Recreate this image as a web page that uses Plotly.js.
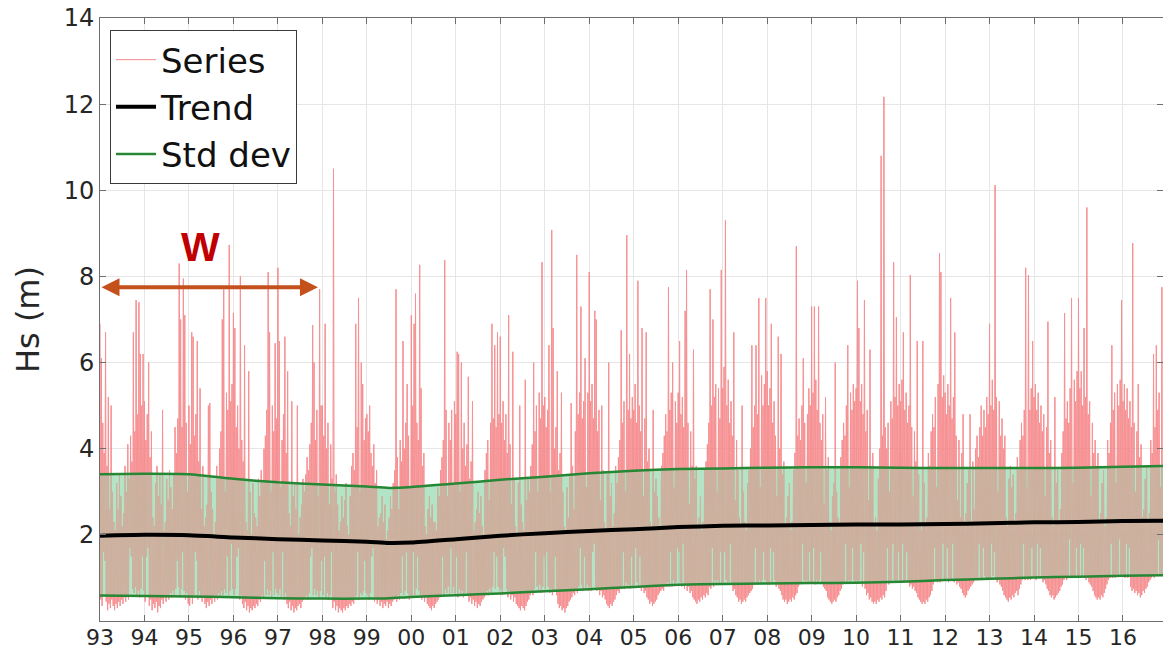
<!DOCTYPE html>
<html>
<head>
<meta charset="utf-8">
<script src="https://cdn.plot.ly/plotly-3.0.1.min.js"></script>
<style>
  html, body { margin: 0; padding: 0; background: #ffffff; }
  #chart { width: 1163px; height: 653px; }
</style>
</head>
<body>
<div id="chart"></div>
<script>
// Significant wave height, 1993-2016: each yearly block holds 32 (peak, trough) pairs,
// i.e. 64 samples spread evenly across the year.
const hs1993 = [6.9,0.5, 6.1,0.35, 4.6,1.6, 3.9,1.4, 6.7,0.45, 3.6,0.25, 5.2,0.4, 2.6,0.3, 5.0,0.5, 3.0,0.35, 2.3,0.25, 2.1,0.4, 3.2,0.3, 2.6,0.45, 3.4,0.35, 2.9,0.5, 2.2,0.4, 2.5,0.55, 3.6,0.45, 3.0,0.6, 4.1,0.5, 3.3,1.7, 4.3,1.5, 3.7,0.75, 6.7,0.65, 4.4,0.8, 7.45,0.6, 4.8,0.7, 7.4,0.55, 6.2,0.75, 5.0,1.5, 6.2,0.7];
const hs1994 = [5.1,0.45, 4.2,1.5, 4.8,1.7, 6.0,0.35, 3.8,0.5, 4.4,0.25, 2.4,0.4, 2.2,0.3, 3.2,0.45, 3.6,0.2, 2.9,0.35, 3.4,0.3, 2.7,0.5, 4.9,0.4, 2.1,0.55, 2.3,0.45, 3.3,0.6, 2.8,0.5, 3.5,0.65, 3.1,0.55, 2.6,0.7, 3.4,0.6, 4.5,0.75, 3.9,1.4, 4.7,0.8, 8.3,0.6, 7.0,0.75, 4.5,1.6, 7.95,0.7, 7.1,0.5, 4.6,0.65, 3.0,0.4];
const hs1995 = [5.0,0.35, 4.1,0.55, 6.7,0.4, 6.6,0.6, 4.3,1.6, 4.8,1.4, 6.5,0.5, 3.7,0.7, 5.4,0.55, 2.6,0.45, 3.6,0.6, 2.2,0.4, 2.4,0.3, 2.7,0.45, 5.0,0.35, 5.06,0.5, 3.0,0.4, 2.6,0.55, 2.0,0.45, 2.3,0.6, 3.6,0.5, 3.3,0.65, 4.0,0.55, 4.4,0.7, 7.0,0.6, 7.7,0.75, 3.0,0.65, 5.3,1.5, 4.9,0.6, 8.73,0.7, 5.1,1.8, 5.5,0.75];
const hs1996 = [7.15,0.6, 6.8,0.75, 4.5,1.5, 5.0,1.7, 4.0,0.5, 8.0,0.6, 4.2,0.4, 3.7,0.3, 6.4,0.45, 2.3,0.25, 2.1,0.35, 5.8,0.2, 3.0,0.3, 2.0,0.25, 3.2,0.35, 2.5,0.3, 2.4,0.4, 2.2,0.35, 3.3,0.5, 2.9,0.45, 3.5,0.6, 3.2,0.55, 4.0,1.4, 4.3,0.6, 4.9,0.75, 8.1,0.6, 6.7,0.7, 3.0,0.55, 5.0,1.6, 4.4,0.6, 6.45,0.75, 4.7,0.65];
const hs1997 = [8.2,0.6, 6.5,0.75, 3.1,0.55, 4.2,1.6, 4.8,0.5, 6.6,0.65, 3.9,0.4, 5.8,0.3, 2.5,0.45, 2.2,0.25, 5.1,0.35, 2.9,0.2, 3.2,0.3, 2.6,0.25, 5.0,0.35, 2.0,0.4, 2.4,0.3, 2.7,0.45, 3.3,0.5, 3.0,0.55, 3.4,0.6, 3.8,0.5, 3.5,0.65, 4.1,1.5, 4.6,1.7, 6.87,0.6, 6.0,0.75, 4.2,0.6, 4.9,0.7, 2.9,0.55, 7.7,0.7, 5.0,1.4];
const hs1998 = [5.0,0.6, 4.3,1.5, 6.9,0.55, 4.0,0.65, 4.6,0.5, 2.7,0.6, 4.1,1.6, 3.3,0.3, 10.5,0.45, 3.0,0.25, 3.4,0.35, 2.7,0.2, 2.1,0.3, 2.3,0.25, 2.9,0.2, 2.4,0.3, 2.8,0.25, 3.2,0.35, 2.2,0.3, 2.0,0.4, 2.9,0.35, 3.6,0.45, 3.9,0.4, 3.5,0.55, 6.9,0.6, 4.5,1.6, 7.5,0.55, 3.0,0.65, 6.0,0.6, 5.5,0.7, 4.2,1.4, 4.7,0.65];
const hs1999 = [4.8,0.6, 4.4,0.5, 5.0,0.65, 3.9,1.5, 3.6,1.7, 4.1,0.45, 3.2,0.55, 3.5,0.4, 2.2,0.5, 2.4,0.35, 2.5,0.45, 2.9,0.3, 2.3,0.4, 2.7,0.35, 1.9,0.45, 2.1,0.3, 2.4,0.4, 2.9,0.35, 2.6,0.45, 3.2,0.5, 3.5,0.55, 7.7,0.45, 3.8,0.6, 2.6,0.5, 4.2,0.65, 3.7,1.5, 6.5,0.6, 4.0,0.7, 4.6,1.6, 5.5,0.65, 4.3,0.5, 3.1,0.6];
const hs2000 = [7.1,0.55, 5.0,1.6, 6.9,0.6, 7.6,0.75, 4.6,1.5, 4.2,0.7, 8.27,0.6, 5.4,0.5, 3.6,0.6, 3.9,0.45, 2.2,0.55, 2.0,0.4, 2.6,0.35, 2.9,0.3, 2.4,0.25, 2.7,0.35, 2.3,0.3, 2.3,0.4, 2.1,0.45, 3.1,0.5, 2.9,0.55, 3.5,0.6, 3.8,1.5, 4.2,0.6, 8.38,0.75, 4.9,0.65, 2.9,0.8, 4.6,0.6, 4.2,1.7, 4.9,0.65, 3.2,0.8, 5.1,0.6];
const hs2001 = [4.8,1.5, 6.25,0.55, 6.2,0.75, 3.0,0.6, 6.0,0.7, 4.0,0.55, 4.6,0.65, 3.6,1.6, 4.1,0.6, 5.67,0.45, 3.3,0.55, 3.7,0.4, 5.1,0.5, 2.1,0.35, 2.3,0.45, 2.6,0.3, 3.0,0.4, 2.5,0.35, 2.9,0.45, 2.2,0.5, 2.0,0.55, 3.5,0.6, 3.9,0.7, 4.2,0.6, 2.8,0.75, 4.6,0.65, 6.9,0.8, 4.7,1.6, 6.4,0.75, 4.5,1.5, 6.7,0.8, 4.8,0.7];
const hs2002 = [6.6,0.75, 4.6,0.6, 5.1,1.7, 4.2,1.5, 4.8,0.75, 3.9,0.55, 7.1,0.7, 4.1,0.5, 2.7,0.6, 6.25,0.45, 3.3,0.55, 2.2,0.4, 2.0,0.35, 3.2,0.3, 5.0,0.25, 2.7,0.35, 2.3,0.3, 2.1,0.25, 5.6,0.35, 2.8,0.45, 3.3,0.5, 3.0,0.6, 3.6,0.7, 4.1,0.6, 6.0,0.75, 4.4,1.6, 5.0,0.8, 3.0,0.7, 5.3,0.85, 4.7,0.65, 8.33,0.8, 5.0,1.5];
const hs2003 = [5.2,0.75, 4.5,1.6, 4.9,0.8, 6.4,0.65, 3.0,0.75, 9.08,0.6, 6.8,0.7, 4.0,1.5, 4.5,0.6, 5.8,0.4, 3.5,0.3, 3.9,0.35, 5.3,0.25, 3.0,0.3, 2.2,0.2, 2.0,0.3, 3.1,0.35, 2.4,0.45, 3.4,0.5, 5.06,0.55, 3.6,0.65, 2.6,0.6, 4.4,0.75, 8.5,0.65, 4.8,0.8, 5.3,1.7, 7.3,0.85, 4.7,0.7, 5.1,1.5, 6.1,0.75, 3.1,0.85, 5.3,0.7];
const hs2004 = [8.1,0.8, 5.1,0.7, 5.5,1.6, 4.7,1.8, 7.2,0.8, 7.0,0.7, 4.4,0.75, 4.9,0.6, 2.8,0.7, 5.0,0.55, 3.5,0.6, 2.3,0.5, 2.1,0.4, 3.4,0.35, 6.0,0.3, 2.9,0.4, 3.2,0.35, 2.2,0.45, 2.5,0.5, 3.6,0.6, 3.2,0.7, 3.8,0.65, 4.2,0.8, 6.75,0.75, 4.6,1.6, 5.1,0.75, 3.0,0.9, 8.96,0.8, 4.9,0.85, 6.2,0.75, 4.7,1.5, 5.2,0.8];
const hs2005 = [4.9,0.85, 5.5,1.7, 4.6,0.9, 7.9,0.8, 5.0,1.5, 4.4,0.7, 6.8,0.8, 2.9,0.65, 4.7,0.7, 6.7,0.55, 3.7,0.5, 4.0,0.4, 2.3,0.45, 2.1,0.35, 4.9,0.4, 3.0,0.45, 3.3,0.5, 2.9,0.6, 2.4,0.65, 2.2,0.7, 3.6,0.75, 3.9,0.7, 4.3,0.85, 4.8,0.8, 4.4,0.9, 7.75,0.8, 4.9,1.6, 5.3,0.8, 6.0,0.95, 3.1,0.85, 5.1,0.9, 4.6,1.7];
const hs2006 = [5.3,1.6, 6.5,0.9, 4.8,0.8, 5.2,1.8, 4.5,0.75, 7.2,0.85, 8.15,0.7, 4.6,0.8, 2.7,0.65, 4.4,0.7, 3.6,0.55, 6.3,0.5, 3.3,0.45, 3.6,0.4, 2.2,0.5, 2.4,0.45, 2.9,0.55, 2.1,0.5, 2.3,0.6, 3.5,0.55, 3.7,0.65, 4.1,0.6, 4.6,0.8, 7.7,0.75, 5.0,1.7, 7.0,0.8, 5.2,0.95, 5.5,0.85, 3.0,0.95, 5.4,0.85, 4.7,1.6, 8.15,0.85];
const hs2007 = [5.4,0.9, 5.9,1.6, 9.3,0.95, 5.0,0.85, 5.6,0.9, 4.6,1.8, 5.1,0.85, 4.3,0.7, 6.7,0.75, 2.8,0.6, 4.2,0.55, 3.5,0.45, 2.4,0.5, 2.2,0.4, 5.0,0.45, 3.0,0.5, 2.3,0.45, 2.1,0.55, 3.2,0.6, 3.5,0.65, 4.0,0.7, 6.4,0.75, 4.5,0.85, 5.0,1.7, 6.4,0.9, 4.8,0.85, 7.5,0.95, 3.1,0.9, 5.7,0.95, 5.0,1.6, 5.5,0.95, 7.5,0.9];
const hs2008 = [5.8,0.9, 5.0,0.85, 5.4,1.7, 6.9,0.9, 4.6,1.6, 5.1,0.95, 4.3,0.8, 2.9,0.85, 6.6,0.75, 4.0,0.7, 6.2,0.6, 3.4,0.5, 3.7,0.45, 2.2,0.5, 2.4,0.4, 2.9,0.45, 3.2,0.5, 2.1,0.45, 2.3,0.55, 3.5,0.5, 3.9,0.6, 8.7,0.65, 4.3,0.8, 4.7,0.85, 4.2,0.9, 5.0,1.8, 6.1,0.95, 4.6,0.9, 3.2,0.95, 4.8,0.9, 5.4,1.6, 5.0,0.9];
const hs2009 = [7.3,0.9, 5.3,1.7, 7.3,0.85, 5.6,0.95, 4.9,0.9, 7.3,0.95, 4.6,1.6, 4.2,0.9, 4.8,0.8, 2.7,0.75, 5.2,0.7, 3.5,0.55, 3.8,0.5, 2.3,0.45, 2.1,0.4, 2.9,0.45, 3.2,0.5, 6.0,0.45, 3.0,0.55, 2.4,0.6, 2.2,0.7, 3.8,0.75, 4.2,0.85, 4.6,0.9, 4.3,1.8, 5.0,0.9, 6.4,0.95, 3.1,0.9, 5.3,0.95, 4.9,1.7, 5.5,0.95, 5.1,0.9];
const hs2010 = [5.4,0.95, 7.9,0.9, 6.8,0.95, 5.1,1.8, 5.5,0.8, 4.8,1.6, 7.45,0.75, 4.4,0.6, 4.9,0.65, 2.8,0.5, 6.3,0.55, 3.6,0.45, 3.9,0.4, 2.2,0.45, 2.4,0.4, 2.1,0.5, 3.3,0.45, 4.0,0.55, 10.8,0.5, 4.3,0.6, 12.17,0.55, 4.5,0.7, 4.0,1.7, 4.6,0.85, 3.0,0.9, 5.1,0.95, 4.7,1.8, 8.33,0.95, 5.2,0.9, 7.05,0.95, 5.0,1.6, 5.5,0.95];
const hs2011 = [5.1,0.9, 5.6,1.8, 6.7,0.9, 4.9,0.95, 5.3,1.6, 4.6,0.9, 5.0,0.8, 8.03,0.85, 4.5,0.75, 2.9,0.8, 4.4,0.7, 3.7,0.65, 6.5,0.55, 3.4,0.5, 2.3,0.45, 2.1,0.4, 6.5,0.45, 3.2,0.4, 2.2,0.5, 2.4,0.45, 3.9,0.55, 3.6,0.6, 4.4,0.7, 4.8,0.85, 4.5,1.7, 5.2,0.95, 3.1,0.9, 5.5,0.95, 8.54,0.9, 8.1,0.95, 5.2,1.8, 5.7,0.95];
const hs2012 = [5.3,0.95, 4.8,1.7, 5.5,0.9, 5.0,1.0, 7.5,0.95, 4.7,1.8, 5.2,0.9, 6.7,0.95, 4.3,0.85, 2.8,0.9, 4.2,0.8, 2.4,0.75, 3.9,0.65, 4.8,0.6, 2.2,0.55, 2.5,0.6, 3.2,0.7, 3.5,0.75, 4.8,0.8, 2.3,0.85, 3.7,0.9, 2.6,0.95, 4.0,1.0, 4.3,0.95, 3.8,1.8, 4.5,0.95, 5.0,1.0, 4.3,1.7, 4.9,1.05, 4.5,0.95, 5.2,1.0, 4.8,0.95];
const hs2013 = [6.9,1.0, 5.0,1.8, 5.6,1.05, 4.9,1.6, 10.12,1.0, 5.2,0.9, 3.0,0.95, 5.1,0.85, 4.3,0.8, 4.7,0.7, 4.0,0.6, 4.3,0.55, 2.4,0.5, 2.2,0.45, 3.3,0.55, 3.6,0.5, 3.1,0.6, 3.4,0.55, 2.3,0.65, 2.5,0.7, 3.8,0.6, 3.5,0.75, 4.2,0.85, 4.6,0.95, 4.3,1.8, 4.9,0.95, 8.2,1.05, 3.1,0.95, 8.03,1.0, 4.9,0.95, 5.4,1.7, 6.5,1.0];
const hs2014 = [5.2,1.0, 5.5,0.95, 4.9,1.8, 5.3,1.0, 4.6,1.7, 5.0,1.0, 4.4,0.9, 4.8,0.95, 2.9,0.85, 4.5,0.75, 6.95,0.7, 3.9,0.6, 4.2,0.55, 2.4,0.6, 2.2,0.5, 5.2,0.55, 3.2,0.6, 3.5,0.65, 2.3,0.7, 2.6,0.8, 3.9,0.85, 4.4,0.95, 7.15,1.0, 4.7,0.95, 5.1,1.05, 4.6,1.9, 5.4,1.05, 7.5,1.0, 3.2,1.05, 5.6,1.0, 5.1,1.7, 5.8,1.0];
const hs2015 = [7.5,1.05, 5.4,1.8, 5.8,1.05, 5.0,1.7, 6.8,1.0, 5.2,0.95, 9.6,1.0, 4.8,0.9, 5.1,0.85, 2.9,0.8, 4.6,0.7, 3.9,0.6, 4.2,0.55, 3.6,0.5, 3.9,0.55, 2.3,0.5, 2.5,0.6, 3.2,0.55, 3.5,0.65, 2.2,0.75, 2.4,0.85, 4.2,0.95, 3.9,1.0, 4.6,1.8, 6.4,1.0, 4.9,1.05, 5.3,1.0, 3.2,1.1, 5.5,1.05, 5.0,1.9, 5.6,1.05, 7.45,1.1];
const hs2016 = [5.1,1.05, 5.5,1.0, 4.9,1.8, 5.4,1.0, 4.7,1.7, 5.1,0.8, 4.5,0.7, 8.77,0.75, 4.6,0.65, 3.0,0.7, 4.4,0.6, 5.5,0.65, 3.8,0.55, 4.1,0.6, 2.4,0.7, 2.6,0.65, 3.3,0.75, 3.6,0.8, 2.3,0.9, 2.5,0.95, 4.2,1.0, 3.9,1.05, 6.2,1.0, 4.5,1.1, 6.4,1.05, 4.9,1.9, 5.3,1.05, 3.1,1.1, 7.75,1.05];

const seriesYears = [1993, 1994, 1995, 1996, 1997, 1998, 1999, 2000, 2001, 2002, 2003, 2004,
                     2005, 2006, 2007, 2008, 2009, 2010, 2011, 2012, 2013, 2014, 2015, 2016];
const seriesBlocks = [hs1993, hs1994, hs1995, hs1996, hs1997, hs1998, hs1999, hs2000, hs2001, hs2002, hs2003, hs2004,
                      hs2005, hs2006, hs2007, hs2008, hs2009, hs2010, hs2011, hs2012, hs2013, hs2014, hs2015, hs2016];
const samplesPerYear = 64;

// Smoothed trend and the +/- one standard deviation envelope
const trendTime = [1993, 1994, 1995, 1996, 1997, 1998, 1999, 1999.5, 2000, 2001, 2002, 2003, 2004,
                   2005, 2006, 2007, 2008, 2009, 2010, 2011, 2012, 2013, 2014, 2015, 2016, 2016.9];
const trendHs = [1.98, 2.0, 1.99, 1.94, 1.9, 1.87, 1.84, 1.81, 1.82, 1.9, 1.98, 2.04, 2.09,
                 2.13, 2.18, 2.21, 2.22, 2.23, 2.24, 2.24, 2.25, 2.27, 2.29, 2.3, 2.32, 2.33];
const stdUpper = [3.41, 3.42, 3.41, 3.3, 3.22, 3.17, 3.12, 3.09, 3.11, 3.19, 3.28, 3.35, 3.43,
                  3.49, 3.53, 3.54, 3.56, 3.57, 3.57, 3.56, 3.55, 3.55, 3.55, 3.56, 3.58, 3.6];
const stdLower = [0.59, 0.58, 0.57, 0.55, 0.53, 0.52, 0.52, 0.53, 0.56, 0.6, 0.64, 0.69, 0.74,
                  0.79, 0.84, 0.86, 0.87, 0.88, 0.89, 0.91, 0.95, 0.98, 1.01, 1.03, 1.05, 1.06];

const yearTicks = [1993, 1994, 1995, 1996, 1997, 1998, 1999, 2000, 2001, 2002, 2003, 2004,
                   2005, 2006, 2007, 2008, 2009, 2010, 2011, 2012, 2013, 2014, 2015, 2016];
const yearLabels = ['93', '94', '95', '96', '97', '98', '99', '00', '01', '02', '03', '04',
                    '05', '06', '07', '08', '09', '10', '11', '12', '13', '14', '15', '16'];
const hsTicks = [2, 4, 6, 8, 10, 12, 14];

// Flatten the yearly blocks into one time series
const seriesT = [];
const seriesHs = [];
seriesBlocks.forEach((block, i) => {
  block.forEach((v, k) => {
    seriesT.push(seriesYears[i] + k / samplesPerYear);
    seriesHs.push(v);
  });
});

const font = 'DejaVu Sans, Arial, sans-serif';
const green = 'rgb(38,135,52)';
const bandLine = { width: 0, shape: 'spline', smoothing: 0.6 };

const traces = [
  // the series itself, under the translucent envelope
  { x: seriesT, y: seriesHs, type: 'scatter', mode: 'lines', name: 'Series',
    line: { color: 'rgba(238,85,90,0.7)', width: 1 }, legendrank: 1 },
  // shaded envelope between the two standard-deviation curves
  { x: trendTime, y: stdLower, type: 'scatter', mode: 'lines', line: bandLine,
    showlegend: false, hoverinfo: 'skip' },
  { x: trendTime, y: stdUpper, type: 'scatter', mode: 'lines', fill: 'tonexty',
    fillcolor: 'rgba(119,206,151,0.55)', line: bandLine, showlegend: false, hoverinfo: 'skip' },
  // light pass of the series over the envelope
  { x: seriesT, y: seriesHs, type: 'scatter', mode: 'lines', name: 'Series',
    line: { color: 'rgba(255,190,190,0.3)', width: 1 }, showlegend: false, hoverinfo: 'skip' },
  { x: trendTime, y: stdUpper, type: 'scatter', mode: 'lines', name: 'Std dev',
    legendgroup: 'std', legendrank: 3,
    line: { color: green, width: 2.5, shape: 'spline', smoothing: 0.6 } },
  { x: trendTime, y: stdLower, type: 'scatter', mode: 'lines', name: 'Std dev',
    legendgroup: 'std', showlegend: false,
    line: { color: green, width: 2.5, shape: 'spline', smoothing: 0.6 } },
  { x: trendTime, y: trendHs, type: 'scatter', mode: 'lines', name: 'Trend', legendrank: 2,
    line: { color: '#000000', width: 4, shape: 'spline', smoothing: 0.6 } }
];

const axisCommon = {
  showline: true, linecolor: '#6e6e6e', linewidth: 1, mirror: 'ticks',
  ticks: 'inside', ticklen: 6, tickcolor: '#6e6e6e', tickwidth: 1,
  showgrid: true, gridcolor: '#e6e6e6', gridwidth: 1, zeroline: false
};

const layout = {
  width: 1163, height: 653,
  margin: { l: 100, r: 0, t: 18, b: 32 },
  paper_bgcolor: '#ffffff', plot_bgcolor: '#ffffff',
  showlegend: true,
  legend: {
    x: 0.0094, y: 0.98, xanchor: 'left', yanchor: 'top',
    bgcolor: '#ffffff', bordercolor: '#3a3a3a', borderwidth: 1,
    font: { family: font, size: 34, color: '#111111' },
    itemwidth: 40, traceorder: 'normal'
  },
  xaxis: Object.assign({}, axisCommon, {
    range: [1993, 2016.9], tickmode: 'array', tickvals: yearTicks, ticktext: yearLabels,
    tickfont: { family: font, size: 22, color: '#262626' }, ticklabelstandoff: -3
  }),
  yaxis: Object.assign({}, axisCommon, {
    range: [0, 14], tickmode: 'array', tickvals: hsTicks,
    tickfont: { family: font, size: 24, color: '#262626' },
    title: { text: 'Hs (m)', font: { family: font, size: 32, color: '#262626' }, standoff: 14 }
  }),
  annotations: [
    { x: 1995.25, y: 8.68, xref: 'x', yref: 'y', text: '<b>W</b>', showarrow: false,
      font: { family: 'Liberation Sans, Arial, sans-serif', size: 41, color: '#c00000' } },
    { x: 1997.9, y: 7.75, ax: 1993.0, ay: 7.75, xref: 'x', yref: 'y', axref: 'x', ayref: 'y',
      text: '', showarrow: true, arrowside: 'end+start', arrowhead: 2, startarrowhead: 2,
      arrowsize: 0.9, startarrowsize: 0.9, arrowwidth: 4, arrowcolor: '#c4501c',
      standoff: 0, startstandoff: 0 }
  ]
};

Plotly.newPlot('chart', traces, layout, { staticPlot: true, displayModeBar: false });
</script>
</body>
</html>
